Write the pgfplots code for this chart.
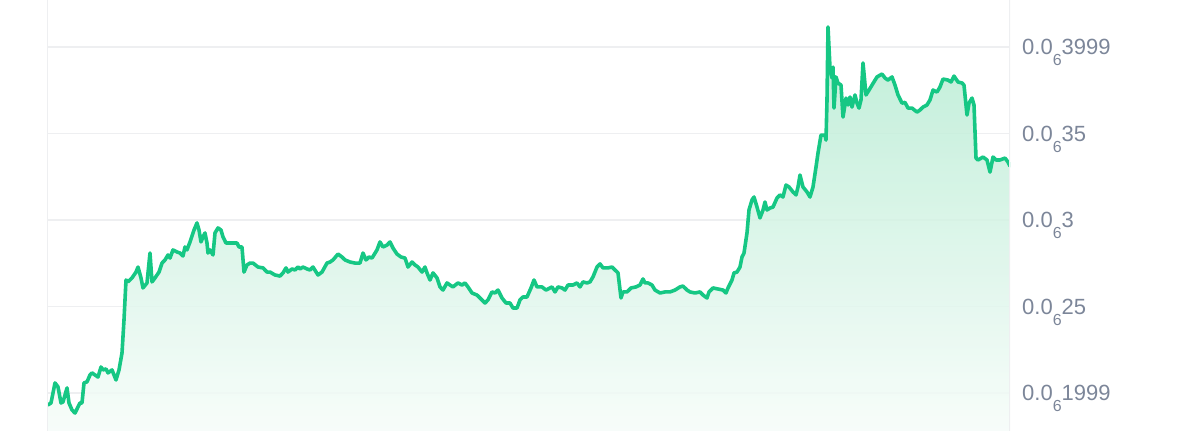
\documentclass[border=0pt]{standalone}
\usepackage{fontspec}
\setmainfont{Liberation Sans}
\usepackage{pgfplots}
\usepackage{pgfplotstable}
\pgfplotsset{compat=1.18}
\definecolor{linec}{RGB}{22,199,132}
\definecolor{gridc}{RGB}{238,239,241}
\definecolor{labc}{RGB}{124,134,153}
\definecolor{filltop}{RGB}{180,235,209}
\definecolor{fillbot}{RGB}{246,252,249}
\newcommand{\lab}[1]{0.0\raisebox{-11pt}{\fontsize{16pt}{16pt}\selectfont 6}#1}
\pgfplotstableread{
x v
47 19.36
48 19.31
51 19.42
55 20.58
58 20.35
61 19.42
63 19.48
67 20.29
69 19.42
72 19.02
75 18.84
78 19.19
80 19.42
82 19.42
84 20.58
87 20.64
90 21.04
92 21.16
95 21.04
98 20.92
101 21.50
103 21.33
106 21.39
108 21.16
112 21.33
116 20.75
119 21.33
122 22.31
124 24.22
126 26.53
128 26.42
132 26.65
136 26.99
138 27.28
141 26.65
143 26.07
147 26.36
150 28.09
152 26.42
155 26.65
159 26.99
162 27.51
165 27.69
168 27.98
170 27.80
173 28.27
177 28.15
180 28.09
183 27.92
185 28.44
187 28.27
190 28.73
194 29.42
197 29.83
199 29.42
201 28.73
203 29.02
205 29.25
207 28.67
208 28.09
210 28.27
213 27.98
215 29.25
218 29.54
221 29.42
223 29.02
226 28.67
230 28.67
233 28.67
237 28.67
239 28.44
242 28.44
244 26.99
247 27.40
250 27.51
253 27.51
258 27.28
263 27.23
267 26.99
270 26.99
275 26.82
280 26.76
283 26.94
286 27.23
288 26.99
292 27.17
295 27.11
298 27.28
300 27.17
303 27.28
307 27.17
310 27.11
313 27.28
318 26.82
322 26.99
327 27.51
330 27.57
333 27.69
338 28.03
342 27.86
345 27.69
350 27.57
355 27.51
360 27.51
363 28.09
366 27.69
369 27.86
372 27.80
377 28.27
380 28.73
383 28.44
387 28.55
390 28.73
393 28.38
397 28.03
401 27.86
405 27.80
408 27.28
412 27.57
415 27.40
418 27.28
422 26.99
425 27.28
427 26.94
430 26.53
433 26.94
437 26.65
440 26.13
443 25.95
447 26.36
450 26.24
453 26.13
458 26.36
462 26.24
465 26.36
468 26.13
472 25.78
477 25.66
480 25.49
485 25.20
488 25.38
492 25.84
495 25.78
498 25.95
502 25.49
506 25.20
510 25.20
513 24.91
517 24.91
520 25.38
523 25.55
527 25.55
531 26.07
534 26.53
537 26.13
542 26.13
546 25.95
550 26.07
552 26.13
555 25.84
558 26.13
562 26.07
565 25.95
568 26.24
573 26.24
577 26.36
580 26.13
583 26.42
587 26.36
590 26.42
593 26.71
597 27.28
600 27.46
603 27.23
608 27.23
612 27.28
615 27.11
618 26.94
621 25.49
623 25.84
627 25.84
631 26.07
636 26.13
640 26.24
643 26.59
645 26.36
648 26.36
652 26.24
655 25.95
660 25.78
665 25.84
670 25.84
675 25.95
680 26.13
683 26.18
687 25.95
690 25.84
695 25.78
700 25.84
703 25.66
707 25.49
709 25.84
713 26.07
718 26.01
723 25.95
726 25.78
728 26.07
732 26.53
734 26.94
737 26.99
740 27.28
742 27.86
744 28.09
747 29.25
749 30.58
752 31.16
754 31.33
757 30.75
760 30.12
763 30.58
765 31.04
767 30.58
770 30.69
773 30.75
777 31.27
780 31.45
783 31.33
786 32.02
789 31.91
793 31.62
796 31.45
798 31.91
800 32.60
803 31.91
807 31.62
810 31.33
813 31.91
816 33.06
818 33.87
821 34.91
825 34.91
826 34.62
827 36.94
828 41.16
830 38.79
832 38.21
833 38.84
834 36.47
836 38.27
838 37.92
841 37.80
843 35.95
846 37.05
848 36.65
850 37.11
852 36.53
855 37.23
857 36.76
859 36.47
861 36.94
863 39.08
866 37.23
869 37.51
872 37.80
877 38.27
882 38.44
885 38.21
888 38.09
892 38.27
895 37.80
898 37.23
902 36.76
905 36.80
908 36.47
912 36.47
917 36.24
920 36.36
923 36.53
927 36.65
930 36.94
933 37.51
937 37.40
940 37.69
943 38.15
948 38.09
951 37.98
954 38.32
958 37.98
962 37.92
964 37.80
967 36.07
969 36.76
972 37.05
974 36.65
976 33.58
978 33.47
983 33.64
987 33.47
990 32.77
993 33.64
996 33.47
1000 33.47
1005 33.58
1008 33.35
1010 33.12
}\data
\begin{document}
\begin{tikzpicture}
\useasboundingbox (0,0) rectangle (1200pt,431pt);
\begin{axis}[
  at={(47pt,0pt)}, anchor=south west,
  scale only axis, width=963pt, height=431pt,
  xmin=47, xmax=1010, ymin=17.8, ymax=42.72,
  axis line style={draw=none},
  xtick=\empty,
  ytick={20,25,30,35,40},
  yticklabels={\lab{1999},\lab{25},\lab{3},\lab{35},\lab{3999}},
  yticklabel pos=right,
  ytick style={draw=none},
  ymajorgrids, major grid style={gridc, line width=1.5pt},
  yticklabel style={anchor=base west, inner sep=0pt, xshift=12pt, yshift=-7.8pt, text=labc, font=\fontsize{22pt}{22pt}\selectfont},
  clip=true,
]
\addplot[draw=none, top color=filltop, bottom color=fillbot, fill opacity=0.85] table[x=x,y=v] {\data} -- (axis cs:1010,17.8) -- (axis cs:47,17.8) -- cycle;
\addplot[linec, line width=3.6pt, line join=round, line cap=round, mark=none] table[x=x,y=v] {\data};
\draw[gridc, line width=2pt] (axis cs:47,17.8) -- (axis cs:47,42.72);
\draw[gridc, line width=2pt] (axis cs:1010,17.8) -- (axis cs:1010,42.72);
\end{axis}
\end{tikzpicture}
\end{document}
